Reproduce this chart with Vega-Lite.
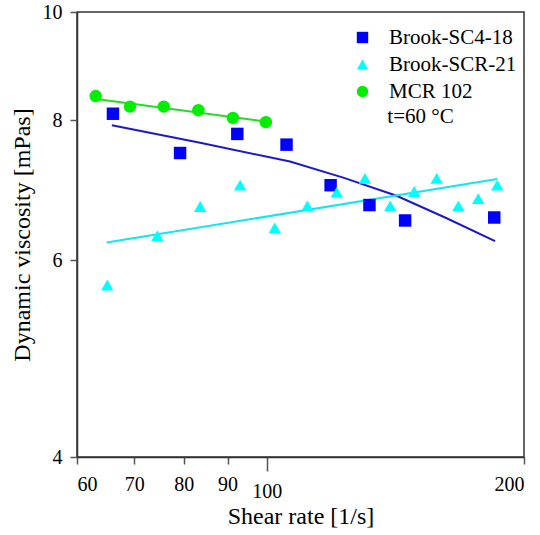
{
  "$schema": "https://vega.github.io/schema/vega-lite/v6.json",
  "width": 447,
  "height": 445,
  "autosize": "none",
  "padding": {"left": 77, "top": 12, "right": 16, "bottom": 78},
  "background": "white",
  "config": {
    "font": "Liberation Serif",
    "view": {"stroke": "#333333", "strokeWidth": 1.5},
    "text": {"font": "Liberation Serif", "fontSize": 21},
    "legend": {"labelFont": "Liberation Serif", "labelFontSize": 21, "labelColor": "#000000", "labelLimit": 300},
    "axis": {
      "grid": false,
      "labelFont": "Liberation Serif",
      "titleFont": "Liberation Serif",
      "labelFontSize": 20,
      "titleFontSize": 24,
      "titleFontWeight": "normal",
      "labelColor": "#000000",
      "titleColor": "#000000",
      "domainColor": "#333333",
      "domainWidth": 1.5,
      "tickColor": "#555555",
      "tickWidth": 1.5
    }
  },
  "datasets": {
    "points": [
      {"series": "Brook-SC4-18", "rate": 66.1, "visc": 8.11},
      {"series": "Brook-SC4-18", "rate": 79.2, "visc": 7.48},
      {"series": "Brook-SC4-18", "rate": 92.4, "visc": 7.78},
      {"series": "Brook-SC4-18", "rate": 105.5, "visc": 7.61},
      {"series": "Brook-SC4-18", "rate": 118.8, "visc": 7.0},
      {"series": "Brook-SC4-18", "rate": 131.9, "visc": 6.72},
      {"series": "Brook-SC4-18", "rate": 145.2, "visc": 6.51},
      {"series": "Brook-SC4-18", "rate": 184.6, "visc": 6.55},
      {"series": "Brook-SCR-21", "rate": 65.1, "visc": 5.7},
      {"series": "Brook-SCR-21", "rate": 74.5, "visc": 6.31},
      {"series": "Brook-SCR-21", "rate": 83.6, "visc": 6.7},
      {"series": "Brook-SCR-21", "rate": 93.1, "visc": 7.0},
      {"series": "Brook-SCR-21", "rate": 102.2, "visc": 6.41},
      {"series": "Brook-SCR-21", "rate": 111.6, "visc": 6.71},
      {"series": "Brook-SCR-21", "rate": 120.8, "visc": 6.9},
      {"series": "Brook-SCR-21", "rate": 130.3, "visc": 7.1},
      {"series": "Brook-SCR-21", "rate": 139.5, "visc": 6.71},
      {"series": "Brook-SCR-21", "rate": 148.8, "visc": 6.91},
      {"series": "Brook-SCR-21", "rate": 158.1, "visc": 7.1},
      {"series": "Brook-SCR-21", "rate": 167.6, "visc": 6.71},
      {"series": "Brook-SCR-21", "rate": 176.8, "visc": 6.81},
      {"series": "Brook-SCR-21", "rate": 186.1, "visc": 7.0},
      {"series": "MCR 102", "rate": 63.1, "visc": 8.41},
      {"series": "MCR 102", "rate": 69.2, "visc": 8.23},
      {"series": "MCR 102", "rate": 75.8, "visc": 8.23},
      {"series": "MCR 102", "rate": 83.2, "visc": 8.17},
      {"series": "MCR 102", "rate": 91.3, "visc": 8.04},
      {"series": "MCR 102", "rate": 99.8, "visc": 7.97}
    ],
    "fits": [
      {"series": "Brook-SC4-18", "rate": 65.9, "visc": 7.92},
      {"series": "Brook-SC4-18", "rate": 83.6, "visc": 7.64},
      {"series": "Brook-SC4-18", "rate": 106.5, "visc": 7.35},
      {"series": "Brook-SC4-18", "rate": 122.9, "visc": 7.11},
      {"series": "Brook-SC4-18", "rate": 141.9, "visc": 6.85},
      {"series": "Brook-SC4-18", "rate": 162.4, "visc": 6.54},
      {"series": "Brook-SC4-18", "rate": 185.0, "visc": 6.24},
      {"series": "Brook-SCR-21", "rate": 65.0, "visc": 6.22},
      {"series": "Brook-SCR-21", "rate": 186.1, "visc": 7.09},
      {"series": "MCR 102", "rate": 63.2, "visc": 8.36},
      {"series": "MCR 102", "rate": 99.8, "visc": 7.98}
    ],
    "notes": [
      {"label": "t=60 °C", "rate": 138.4, "visc": 8.06}
    ]
  },
  "encoding": {
    "x": {
      "field": "rate",
      "type": "quantitative",
      "scale": {"type": "log", "domain": [60, 200], "nice": false},
      "axis": {
        "title": "Shear rate [1/s]",
        "values": [60, 70, 80, 90, 100, 200],
        "tickSize": {"condition": {"test": "datum.value == 100", "value": 14}, "value": 7},
        "labelPadding": 10,
        "titlePadding": 3
      }
    },
    "y": {
      "field": "visc",
      "type": "quantitative",
      "scale": {"type": "log", "domain": [4, 10], "nice": false},
      "axis": {
        "title": "Dynamic viscosity [mPas]",
        "values": [4, 6, 8, 10],
        "tickSize": 7,
        "labelPadding": 8,
        "titlePadding": 8
      }
    }
  },
  "layer": [
    {
      "data": {"name": "fits"},
      "transform": [{"filter": "datum.series == 'Brook-SC4-18'"}],
      "mark": {"type": "line", "strokeWidth": 2, "color": "#1a1acc"}
    },
    {
      "data": {"name": "fits"},
      "transform": [{"filter": "datum.series == 'Brook-SCR-21'"}],
      "mark": {"type": "line", "strokeWidth": 2, "color": "#12e6f0"}
    },
    {
      "data": {"name": "fits"},
      "transform": [{"filter": "datum.series == 'MCR 102'"}],
      "mark": {"type": "line", "strokeWidth": 2, "color": "#22dd22"}
    },
    {
      "data": {"name": "points"},
      "mark": {"type": "point", "filled": true, "opacity": 1, "size": 155, "strokeWidth": 0},
      "encoding": {
        "color": {
          "field": "series",
          "type": "nominal",
          "scale": {"domain": ["Brook-SC4-18", "Brook-SCR-21", "MCR 102"], "range": ["#0000ff", "#00ffff", "#00ee00"]},
          "legend": {"title": null, "orient": "none", "legendX": 275, "legendY": 15, "padding": 0, "symbolSize": 130, "labelOffset": 16, "rowPadding": 5, "symbolOpacity": 1, "labelFont": "Liberation Serif", "labelFontSize": 21, "labelColor": "#000000", "labelLimit": 300}
        },
        "shape": {
          "field": "series",
          "type": "nominal",
          "scale": {"domain": ["Brook-SC4-18", "Brook-SCR-21", "MCR 102"], "range": ["square", "triangle-up", "circle"]},
          "legend": {"title": null, "orient": "none", "legendX": 275, "legendY": 15, "padding": 0, "symbolSize": 130, "labelOffset": 16, "rowPadding": 5, "symbolOpacity": 1, "labelFont": "Liberation Serif", "labelFontSize": 21, "labelColor": "#000000", "labelLimit": 300}
        }
      }
    },
    {
      "data": {"name": "notes"},
      "mark": {"type": "text", "align": "left", "baseline": "middle", "fontSize": 21, "font": "Liberation Serif", "color": "#000000"},
      "encoding": {
        "text": {"field": "label", "type": "nominal"}
      }
    }
  ]
}
